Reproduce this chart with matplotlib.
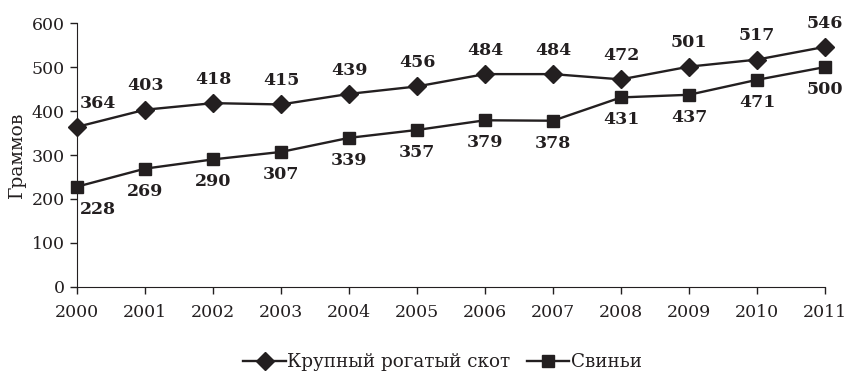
import matplotlib
matplotlib.use("Agg")
import matplotlib.pyplot as plt

years = [2000, 2001, 2002, 2003, 2004, 2005, 2006, 2007, 2008, 2009, 2010, 2011]
cattle = [364, 403, 418, 415, 439, 456, 484, 484, 472, 501, 517, 546]
pigs = [228, 269, 290, 307, 339, 357, 379, 378, 431, 437, 471, 500]

plt.rcParams['font.family'] = ['DejaVu Serif']
ink = '#231f20'

fig = plt.figure(figsize=(8.47, 3.79), dpi=100)
ax = fig.add_axes([0.091, 0.243, 0.883, 0.696])

ax.plot(years, cattle, color=ink, lw=1.7, marker='D', ms=9,
        label='Крупный рогатый скот', clip_on=False)
ax.plot(years, pigs, color=ink, lw=1.7, marker='s', ms=8.5,
        label='Свиньи', clip_on=False)

# value labels: cattle above, pigs below
for x, v in zip(years, cattle):
    dx = 15 if x == years[0] else 0
    ax.annotate(str(v), (x, v), xytext=(dx, 11), textcoords='offset points',
                ha='center', va='bottom', fontsize=12.5, fontweight='bold',
                color=ink)
for x, v in zip(years, pigs):
    dx = 15 if x == years[0] else 0
    ax.annotate(str(v), (x, v), xytext=(dx, -10), textcoords='offset points',
                ha='center', va='top', fontsize=12.5, fontweight='bold',
                color=ink)

ax.set_xlim(2000, 2011)
ax.set_ylim(0, 600)
ax.set_xticks(years)
ax.set_yticks(range(0, 601, 100))
ax.tick_params(labelsize=12.5, colors=ink, length=5, width=1, pad=4)
ax.tick_params(axis='x', pad=7)
for side in ('left', 'bottom'):
    ax.spines[side].set_color(ink)
ax.spines['top'].set_visible(False)
ax.spines['right'].set_visible(False)
ax.set_ylabel('Граммов', fontsize=13.5, color=ink, labelpad=4)

ax.legend(loc='center', bbox_to_anchor=(0.489, -0.285), ncol=2, frameon=False,
          fontsize=13.2, handlelength=2.3, columnspacing=0.9, handletextpad=0.1,
          labelcolor=ink)

fig.savefig('out.png', dpi=100)
